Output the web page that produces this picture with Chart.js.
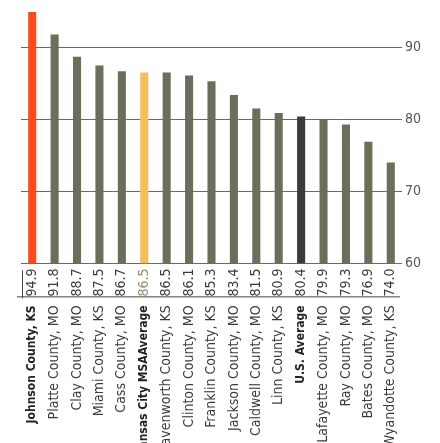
<!DOCTYPE html>
<html>
<head>
<meta charset="utf-8">
<script src="https://cdn.jsdelivr.net/npm/chart.js@4"></script>
<style>
  html, body { margin: 0; padding: 0; background: #fff; overflow: hidden; }
  #wrap { position: relative; width: 440px; height: 462px; }
</style>
</head>
<body>
<div id="wrap"><canvas id="chart"></canvas></div>
<script>
// life expectancy style index by county
const counties = [
    "Johnson County, KS", "Platte County, MO", "Clay County, MO", "Miami County, KS",
    "Cass County, MO", "Kansas City MSAAverage", "Leavenworth County, KS", "Clinton County, MO",
    "Franklin County, KS", "Jackson County, MO", "Caldwell County, MO", "Linn County, KS",
    "U.S. Average", "Lafayette County, MO", "Ray County, MO", "Bates County, MO", "Wyandotte County, KS"
];
const values = [94.9, 91.8, 88.7, 87.5, 86.7, 86.5, 86.5, 86.1, 85.3, 83.4, 81.5, 80.9, 80.4, 79.9, 79.3, 76.9, 74.0];
const yTicks = [60, 70, 80, 90];

const highlight = { 0: "#ff4a1c", 5: "#f6be5a", 12: "#3b3b39" };
const boldIdx = [0, 5, 12];
const FONT = "'Liberation Sans Narrow', 'DejaVu Sans Condensed', sans-serif";

const barColors = values.map((v, i) => highlight[i] || "#6d6d5b");

// draws the value row under the bars plus the little table rules
const valueRow = {
    id: "valueRow",
    afterDraw(chart) {
        const ctx = chart.ctx;
        const area = chart.chartArea;
        const meta = chart.getDatasetMeta(0);
        ctx.save();
        ctx.font = "14px " + FONT;
        meta.data.forEach((bar, i) => {
            ctx.save();
            ctx.translate(bar.x, area.bottom + 5);
            ctx.rotate(-Math.PI / 2);
            ctx.textAlign = "right";
            ctx.textBaseline = "middle";
            ctx.fillStyle = i === 5 ? "#9a8a6a" : "#3a3a3a";
            ctx.fillText(values[i].toFixed(1), 0, 0);
            ctx.restore();
        });
        ctx.strokeStyle = "#444";
        ctx.lineWidth = 1;
        ctx.beginPath();
        ctx.moveTo(area.left - 4, area.bottom + 33.5);
        ctx.lineTo(area.right - 2, area.bottom + 33.5);
        ctx.moveTo(area.left + 1.5, area.bottom + 7);
        ctx.lineTo(area.left + 1.5, area.bottom + 35);
        ctx.stroke();
        ctx.restore();
    }
};

new Chart(document.getElementById("chart"), {
    type: "bar",
    data: {
        labels: counties,
        datasets: [{
            data: values,
            backgroundColor: barColors,
            barPercentage: 0.72,
            categoryPercentage: 0.5
        }]
    },
    options: {
        responsive: true,
        maintainAspectRatio: false,
        animation: false,
        layout: { padding: { left: 21, right: 16, top: 10, bottom: 0 } },
        plugins: {
            legend: { display: false },
            tooltip: { enabled: false }
        },
        scales: {
            x: {
                // invisible long ticks leave room for the value row
                grid: { drawOnChartArea: false, drawTicks: true, tickLength: 40, tickColor: "rgba(0,0,0,0)" },
                border: { display: false },
                ticks: {
                    autoSkip: false,
                    minRotation: 90,
                    maxRotation: 90,
                    padding: 2,
                    color: (c) => boldIdx.includes(c.index) ? "#222" : "#3a3a3a",
                    font: (c) => boldIdx.includes(c.index)
                        ? { family: FONT, size: 12, weight: "bold" }
                        : { family: FONT, size: 14, weight: "normal" }
                }
            },
            y: {
                position: "right",
                min: 60,
                max: 95,
                afterBuildTicks: (axis) => { axis.ticks = yTicks.map(v => ({ value: v })); },
                grid: { color: "#6a6a6a", lineWidth: 1, drawTicks: false },
                border: { display: false },
                ticks: {
                    padding: 3,
                    color: "#555",
                    font: { family: FONT, size: 14 }
                }
            }
        }
    },
    plugins: [valueRow]
});
</script>
</body>
</html>
